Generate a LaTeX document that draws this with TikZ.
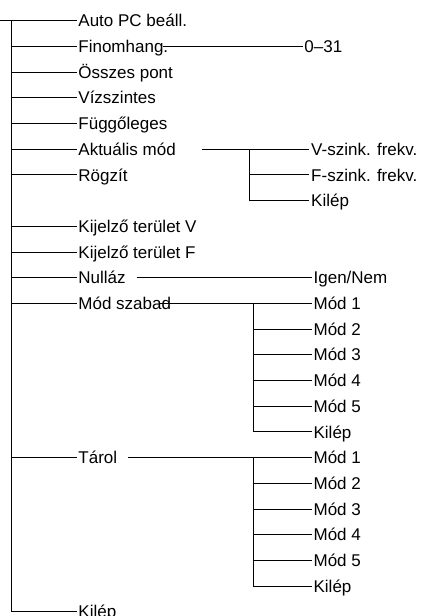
\documentclass[tikz,border=0pt]{standalone}
\usepackage{fontspec}
\setmainfont{Liberation Sans}
\begin{document}
\begin{tikzpicture}[x=1pt,y=-1pt, line width=0.85pt,
  lbl/.style={anchor=west, inner xsep=1.5pt, inner ysep=0pt,
    text height=12.2pt, text depth=0pt, font=\fontsize{17}{20}\selectfont}]
\useasboundingbox (0,0) rectangle (425,616);
% main branch
\foreach \i/\t in {0/Auto PC beáll., 1/Finomhang., 2/Összes pont, 3/Vízszintes,
  4/Függőleges, 5/Aktuális mód, 6/Rögzít, 8/Kijelző terület V, 9/Kijelző terület F,
  10/Nulláz, 11/Mód szabad, 17/Tárol, 23/Kilép}{
  \node[lbl] (m\i) at (76.5,{20.7+25.7*\i}) {\t};
  \coordinate (t\i) at (11.7,{20.7+25.7*\i});
  \draw (t\i) -- (m\i.west);
}
\coordinate (in) at (0,20.7);
\draw (in) -- (t0);
\draw (t0) -- (t23);
% Finomhang
\node[lbl] (s1) at (302.5,{20.7+25.7*1}) {0–31};
\coordinate (f1) at (163,{20.7+25.7*1});
\draw (f1) -- (s1.west);
% Aktualis mod
\coordinate (a5) at (201.5,{20.7+25.7*5});
\foreach \i/\t in {5/V-szink. frekv., 6/F-szink. frekv., 7/Kilép}{
  \node[lbl] (v\i) at (309.3,{20.7+25.7*\i}) {\t};
  \coordinate (b\i) at (249.3,{20.7+25.7*\i});
}
\draw (a5) -- (v5.west);
\draw (b5) -- (b7);
\draw (b6) -- (v6.west);
\draw (b7) -- (v7.west);
% Nullaz
\coordinate (a10) at (136.7,{20.7+25.7*10});
\node[lbl] (v10) at (311.7,{20.7+25.7*10}) {Igen/Nem};
\draw (a10) -- (v10.west);
% Mod szabad
\coordinate (a11) at (160,{20.7+25.7*11});
\foreach \i/\t in {11/Mód 1, 12/Mód 2, 13/Mód 3, 14/Mód 4, 15/Mód 5, 16/Kilép}{
  \node[lbl] (v\i) at (311.7,{20.7+25.7*\i}) {\t};
  \coordinate (b\i) at (253.3,{20.7+25.7*\i});
}
\draw (a11) -- (v11.west);
\draw (b11) -- (b16);
\foreach \i in {12,...,16}{\draw (b\i) -- (v\i.west);}
% Tarol
\coordinate (a17) at (128.3,{20.7+25.7*17});
\foreach \i/\t in {17/Mód 1, 18/Mód 2, 19/Mód 3, 20/Mód 4, 21/Mód 5, 22/Kilép}{
  \node[lbl] (v\i) at (311.7,{20.7+25.7*\i}) {\t};
  \coordinate (b\i) at (253.3,{20.7+25.7*\i});
}
\draw (a17) -- (v17.west);
\draw (b17) -- (b22);
\foreach \i in {18,...,22}{\draw (b\i) -- (v\i.west);}
\end{tikzpicture}
\end{document}
